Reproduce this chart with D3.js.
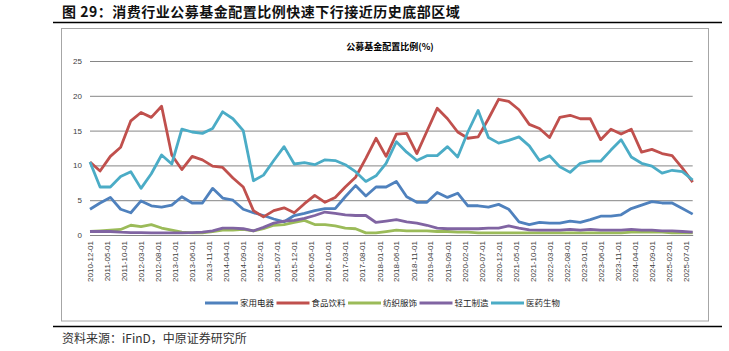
<!DOCTYPE html>
<html>
<head>
    <meta charset="utf-8">
    <script src="https://d3js.org/d3.v7.min.js"></script>
    <style>
        body {
            margin: 0;
            background: #fff;
            font-family: "Noto Sans CJK SC", "Liberation Sans", sans-serif;
        }
        .tick-label {
            font-family: "Liberation Sans", Arial, sans-serif;
            font-size: 8px;
            fill: #404040;
        }
    </style>
</head>
<body>
    <svg id="chart" width="729" height="351"></svg>

    <script>
        // quarterly dates, 2010-12 .. 2025-09
        const dates = d3.timeMonth.range(new Date(2010, 11, 1), new Date(2025, 9, 1), 3);

        const seriesNames = ["家用电器", "食品饮料", "纺织服饰", "轻工制造", "医药生物"];
        const seriesColors = ["#4f81bd", "#c0504d", "#9bbb59", "#8064a2", "#4bacc6"];

        const appliances = [3.7, 4.6, 5.4, 3.7, 3.2, 4.9, 4.2, 4.0, 4.3, 5.5,
            4.6, 4.6, 6.7, 5.3, 5.0, 3.7, 3.2, 2.8, 2.3, 1.9,
            2.8, 3.1, 3.5, 3.8, 3.8, 5.5, 7.1, 5.6, 6.9, 6.9,
            7.7, 5.5, 4.7, 4.7, 6.1, 5.4, 6.0, 4.2, 4.2, 4.0,
            4.4, 3.7, 1.9, 1.5, 1.8, 1.7, 1.7, 2.0, 1.8, 2.2,
            2.7, 2.7, 2.9, 3.8, 4.3, 4.8, 4.6, 4.6, 3.8, 3.0];

        const foodBev = [10.5, 9.2, 11.3, 12.6, 16.4, 17.6, 16.9, 18.5, 11.5, 9.4,
            11.3, 10.8, 9.9, 9.7, 8.2, 6.9, 3.5, 2.6, 3.5, 3.9,
            3.2, 4.5, 5.7, 4.7, 5.4, 6.9, 8.3, 11.0, 13.9, 11.3,
            14.5, 14.6, 11.7, 14.9, 18.2, 16.7, 14.8, 13.9, 14.1, 16.7,
            19.5, 19.2, 18.0, 15.9, 15.3, 14.0, 16.9, 17.2, 16.7, 16.7,
            13.7, 15.2, 14.5, 15.2, 11.9, 12.3, 11.7, 11.4, 9.6, 7.6];

        const textile = [0.5, 0.6, 0.7, 0.8, 1.4, 1.2, 1.5, 1.0, 0.7, 0.4,
            0.3, 0.3, 0.5, 0.7, 0.7, 0.8, 0.6, 0.9, 1.4, 1.5,
            1.8, 2.1, 1.5, 1.5, 1.3, 1.0, 0.9, 0.3, 0.3, 0.5,
            0.7, 0.6, 0.6, 0.6, 0.5, 0.5, 0.4, 0.4, 0.3, 0.3,
            0.3, 0.3, 0.3, 0.3, 0.3, 0.3, 0.3, 0.3, 0.3, 0.3,
            0.3, 0.3, 0.3, 0.4, 0.4, 0.4, 0.4, 0.3, 0.3, 0.3];

        const lightMfg = [0.5, 0.5, 0.5, 0.4, 0.35, 0.35, 0.3, 0.3, 0.3, 0.3,
            0.35, 0.4, 0.6, 1.0, 1.0, 0.9, 0.6, 1.1, 1.7, 2.0,
            2.1, 2.4, 2.8, 3.3, 3.1, 2.9, 2.8, 2.8, 1.8, 2.0,
            2.2, 1.9, 1.7, 1.4, 1.0, 0.9, 0.9, 0.9, 0.9, 1.0,
            1.0, 1.3, 1.0, 0.75, 0.7, 0.7, 0.7, 0.8, 0.7, 0.8,
            0.7, 0.7, 0.7, 0.8, 0.7, 0.7, 0.6, 0.6, 0.5, 0.4];

        const pharma = [10.5, 6.9, 6.9, 8.4, 9.1, 6.7, 8.8, 11.5, 10.2, 15.2,
            14.8, 14.6, 15.3, 17.7, 16.7, 15.0, 7.8, 8.6, 10.7, 12.7,
            10.2, 10.4, 10.1, 10.8, 10.7, 10.1, 9.1, 7.7, 8.5, 10.3,
            13.4, 11.9, 10.7, 11.4, 11.4, 12.7, 11.2, 14.8, 17.9, 14.0,
            13.2, 13.6, 14.1, 12.8, 10.7, 11.4, 9.8, 9.0, 10.3, 10.6,
            10.6, 12.2, 13.7, 11.2, 10.3, 9.9, 8.9, 9.3, 9.1, 7.9];

        const seriesValues = [appliances, foodBev, textile, lightMfg, pharma];
        const yTicks = [0, 5, 10, 15, 20, 25];
        const xTicks = d3.timeMonth.range(new Date(2010, 11, 1), new Date(2025, 8, 1), 5);

        const svg = d3.select("#chart");
        const plot = { left: 90, right: 692.7, top: 61, bottom: 235 };

        const xScale = d3.scaleTime()
            .domain([new Date(2010, 11, 1), new Date(2025, 8, 1)])
            .range([plot.left, plot.right]);
        const yScale = d3.scaleLinear()
            .domain([0, 25])
            .range([plot.bottom, plot.top]);

        // heading + rules
        svg.append("text")
            .attr("x", 62)
            .attr("y", 16.5)
            .attr("font-size", "14px")
            .attr("letter-spacing", "0.5px")
            .attr("font-weight", "bold")
            .attr("fill", "#111")
            .text("图 29：消费行业公募基金配置比例快速下行接近历史底部区域");

        svg.append("line")
            .attr("x1", 53).attr("x2", 722)
            .attr("y1", 22.5).attr("y2", 22.5)
            .attr("stroke", "#000").attr("stroke-width", 1.6);

        svg.append("rect")
            .attr("x", 61.5).attr("y", 28.5)
            .attr("width", 647).attr("height", 292.5)
            .attr("fill", "none")
            .attr("stroke", "#a6a6a6");

        svg.append("line")
            .attr("x1", 53).attr("x2", 722)
            .attr("y1", 326.5).attr("y2", 326.5)
            .attr("stroke", "#000").attr("stroke-width", 1.6);

        svg.append("text")
            .attr("x", 62)
            .attr("y", 343)
            .attr("font-size", "12px")
            .attr("fill", "#333")
            .text("资料来源：iFinD，中原证券研究所");

        // chart title
        svg.append("text")
            .attr("x", 390)
            .attr("y", 50)
            .attr("text-anchor", "middle")
            .attr("font-size", "9px")
            .attr("font-weight", "bold")
            .attr("fill", "#000")
            .text("公募基金配置比例(%)");

        // gridlines
        const yAxis = d3.axisLeft(yScale)
            .tickValues(yTicks)
            .tickSize(-(plot.right - plot.left))
            .tickPadding(8);

        const yG = svg.append("g")
            .attr("transform", `translate(${plot.left},0)`)
            .call(yAxis);
        yG.select(".domain").remove();
        yG.selectAll(".tick line").attr("stroke", "#868686");
        yG.selectAll(".tick text").attr("class", "tick-label");

        const xAxis = d3.axisBottom(xScale)
            .tickValues(xTicks)
            .tickSize(0)
            .tickFormat(d3.timeFormat("%Y-%m-01"));

        const xG = svg.append("g")
            .attr("transform", `translate(0,${plot.bottom})`)
            .call(xAxis);
        xG.select(".domain").attr("stroke", "#868686");
        xG.selectAll(".tick text")
            .attr("class", "tick-label")
            .attr("text-anchor", "end")
            .attr("transform", "rotate(-90)")
            .attr("x", -6)
            .attr("y", 0)
            .attr("dy", "0.32em");

        // lines
        const line = d3.line()
            .x((d, i) => xScale(dates[i]))
            .y(d => yScale(d));

        seriesValues.forEach((vals, k) => {
            svg.append("path")
                .datum(vals)
                .attr("fill", "none")
                .attr("stroke", seriesColors[k])
                .attr("stroke-width", 2.8)
                .attr("stroke-linejoin", "round")
                .attr("d", line);
        });

        // legend
        const legend = svg.append("g").attr("transform", "translate(205,303)");
        seriesNames.forEach((name, k) => {
            const g = legend.append("g").attr("transform", `translate(${k * 71.5},0)`);
            g.append("line")
                .attr("x1", 0).attr("x2", 33)
                .attr("stroke", seriesColors[k])
                .attr("stroke-width", 3);
            g.append("text")
                .attr("x", 35)
                .attr("dy", "0.35em")
                .attr("font-size", "8.5px")
                .attr("fill", "#222")
                .text(name);
        });
    </script>
</body>
</html>
